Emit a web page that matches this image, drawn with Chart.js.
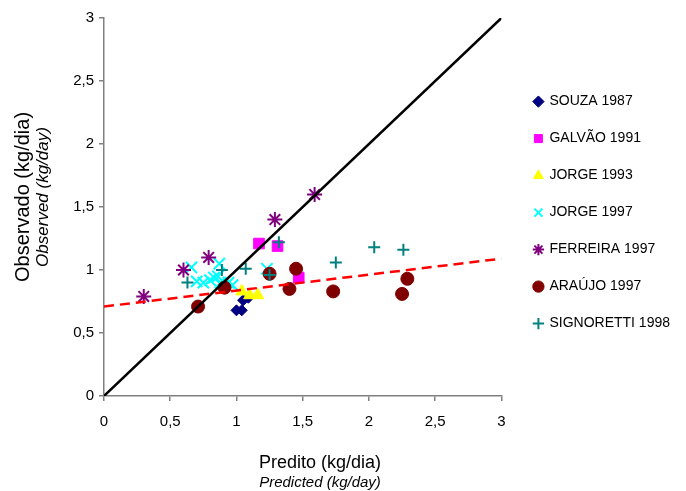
<!DOCTYPE html>
<html>
<head>
<meta charset="utf-8">
<script src="https://cdn.jsdelivr.net/npm/chart.js@4.4.1/dist/chart.umd.min.js"></script>
<style>
  body { margin: 0; background: #fff; }
  #wrap { width: 686px; height: 491px; }
</style>
</head>
<body>
<div id="wrap"><canvas id="chart"></canvas></div>
<script>
// series, [predicted, observed]
const souza = [[1.00, 0.68], [1.04, 0.68], [1.05, 0.76], [1.09, 0.78]];
const galvao = [[1.17, 1.21], [1.31, 1.19], [1.47, 0.94]];
const jorge93 = [[1.04, 0.83], [1.10, 0.80], [1.16, 0.80]];
const jorge97 = [[0.66, 1.02], [0.70, 0.91], [0.75, 0.90], [0.80, 0.92], [0.83, 0.94],
                 [0.86, 0.95], [0.87, 1.05], [0.88, 0.90], [0.94, 0.90], [0.97, 0.88], [1.23, 1.01]];
const ferreira = [[0.30, 0.79], [0.60, 1.00], [0.79, 1.10], [1.29, 1.40], [1.59, 1.60]];
const araujo = [[0.71, 0.71], [0.91, 0.86], [1.25, 0.97], [1.45, 1.01], [1.40, 0.85],
                [1.73, 0.83], [2.25, 0.81], [2.29, 0.93]];
const signoretti = [[0.63, 0.90], [0.89, 1.00], [1.07, 1.01], [1.25, 0.96], [1.32, 1.22],
                    [1.75, 1.06], [2.04, 1.18], [2.26, 1.16]];

// 1:1 line and the fitted trend
const identityLine = [[0, 0], [3, 3]];
const trendLine = [[0, 0.71], [3, 1.09]];

const axisTicks = [0, 0.5, 1, 1.5, 2, 2.5, 3];

const xTitle = 'Predito (kg/dia)';
const xSubTitle = 'Predicted (kg/day)';
const yTitle = 'Observado (kg/dia)';
const ySubTitle = 'Observed (kg/day)';

function toPoints(arr) {
    return arr.map(p => ({ x: p[0], y: p[1] }));
}

function formatTick(value) {
    return String(value).replace('.', ',');
}

Chart.defaults.font.family = '"Liberation Sans", Arial, sans-serif';
Chart.defaults.color = '#000';

// axis titles: two lines with different fonts
const axisTitles = {
    id: 'axisTitles',
    afterDraw(chart) {
        const ctx = chart.ctx;
        ctx.save();
        ctx.fillStyle = '#000';
        ctx.textAlign = 'center';
        ctx.textBaseline = 'middle';
        ctx.font = '18px "Liberation Sans", Arial';
        ctx.fillText(xTitle, 320, 463);
        ctx.font = 'italic 15px "Liberation Sans", Arial';
        ctx.fillText(xSubTitle, 320, 483);

        ctx.translate(23, 197);
        ctx.rotate(-Math.PI / 2);
        ctx.font = '20px "Liberation Sans", Arial';
        ctx.fillText(yTitle, 0, 0);
        ctx.font = 'italic 17px "Liberation Sans", Arial';
        ctx.fillText(ySubTitle, 0, 20);
        ctx.restore();
    }
};

function markerSet(label, data, style, color, radius, order, stroke) {
    return {
        label: label,
        data: toPoints(data),
        pointStyle: style,
        pointRadius: radius,
        backgroundColor: color,
        borderColor: color,
        borderWidth: stroke ? 2 : 1,
        showLine: false,
        order: order
    };
}

const ctx = document.getElementById('chart').getContext('2d');
const chart = new Chart(ctx, {
    type: 'scatter',
    data: {
        datasets: [
            markerSet('SOUZA 1987', souza, 'rectRot', '#000080', 5.5, 10),
            markerSet('GALVÃO 1991', galvao, 'rect', '#FF00FF', 7.5, 9),
            markerSet('JORGE 1993', jorge93, 'triangle', '#FFFF00', 7, 8),
            markerSet('JORGE 1997', jorge97, 'crossRot', '#00FFFF', 8, 7, true),
            markerSet('FERREIRA 1997', ferreira, 'star', '#800080', 7.5, 6, true),
            markerSet('ARAÚJO 1997', araujo, 'circle', '#800000', 6.5, 5),
            markerSet('SIGNORETTI 1998', signoretti, 'cross', '#008080', 6, 4, true),
            {
                type: 'line',
                data: toPoints(identityLine),
                borderColor: '#000',
                borderWidth: 2.5,
                pointRadius: 0,
                order: 1
            },
            {
                type: 'line',
                data: toPoints(trendLine),
                borderColor: '#FF0000',
                borderWidth: 2.5,
                borderDash: [10, 6],
                pointRadius: 0,
                order: 0
            }
        ]
    },
    options: {
        responsive: true,
        maintainAspectRatio: false,
        animation: false,
        events: [],
        layout: {
            padding: { left: 60, top: 18, right: 6, bottom: 0 }
        },
        scales: {
            x: {
                type: 'linear',
                min: 0,
                max: 3,
                afterBuildTicks(scale) {
                    scale.ticks = axisTicks.map(v => ({ value: v }));
                },
                afterFit(scale) { scale.height = 95; },
                ticks: {
                    callback: formatTick,
                    font: { size: 15 },
                    padding: 12,
                    maxRotation: 0
                },
                grid: {
                    drawOnChartArea: false,
                    tickLength: 5,
                    color: '#808080',
                    lineWidth: 1.5
                },
                border: { color: '#808080', width: 1.5 }
            },
            y: {
                type: 'linear',
                min: 0,
                max: 3,
                afterBuildTicks(scale) {
                    scale.ticks = axisTicks.map(v => ({ value: v }));
                },
                afterFit(scale) { scale.width = 44; },
                ticks: {
                    callback: formatTick,
                    font: { size: 15 },
                    padding: 5
                },
                grid: {
                    drawOnChartArea: false,
                    tickLength: 5,
                    color: '#808080',
                    lineWidth: 1.5
                },
                border: { color: '#808080', width: 1.5 }
            },
            // empty spacer between plot and legend
            gap: {
                type: 'linear',
                position: 'right',
                display: true,
                afterFit(scale) { scale.width = 10; },
                ticks: { display: false },
                grid: { display: false, drawTicks: false },
                border: { display: false }
            }
        },
        plugins: {
            legend: {
                position: 'right',
                fullSize: false,
                maxWidth: 220,
                // empty title only nudges the entries down a little
                title: { display: true, text: '', font: { size: 6 }, padding: 2 },
                labels: {
                    usePointStyle: true,
                    boxWidth: 8,
                    boxHeight: 8,
                    padding: 23,
                    font: { size: 14 },
                    filter: item => item.datasetIndex < 7,
                    sort: (a, b) => a.datasetIndex - b.datasetIndex
                }
            },
            tooltip: { enabled: false }
        }
    },
    plugins: [axisTitles]
});
</script>
</body>
</html>
